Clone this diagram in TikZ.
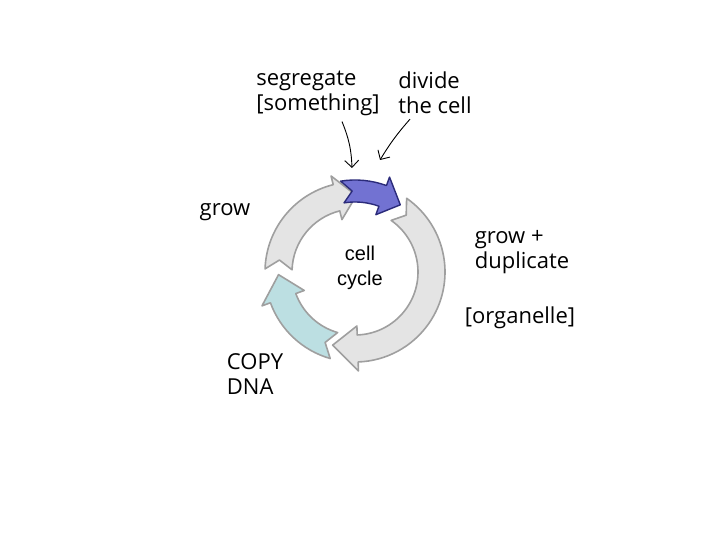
\documentclass[tikz,border=0pt]{standalone}
\usetikzlibrary{arrows.meta}
\usepackage{fontspec}
\setmainfont{Liberation Sans}
\newfontfamily\hand{Open Sans}
\definecolor{lblue}{HTML}{BCDFE2}
\definecolor{purp}{HTML}{7272D2}
\definecolor{dpurp}{HTML}{2B2B7A}
\definecolor{lgray}{HTML}{E4E4E4}
\begin{document}
\begin{tikzpicture}[x=1pt,y=-1pt,
  band/.style={draw=gray!75,line width=1.6pt,line join=round},
  lbl/.style={font=\hand\fontsize{22}{25}\selectfont,align=left,inner sep=0pt},
  hand/.style={line width=0.9pt,-{Straight Barb[length=7pt]}}]
\useasboundingbox (0,0) rectangle (720,540);
\newcommand{\arcarrow}[6]{%
  \fill[#6] (#1:#5) arc[start angle=#1,end angle=#2,radius=#5]
   -- (#2:{#5+9}) -- (#3:{(#4+#5)/2}) -- (#2:{#4-9}) -- (#2:#4)
   arc[start angle=#2,end angle=#1,radius=#4] -- ({#1-7}:{(#4+#5)/2}) -- cycle;}
\begin{scope}[shift={(355,272)},y=1pt]
\arcarrow{55}{-88}{-107}{63}{90}{band,fill=lgray}
\arcarrow{-106}{-160}{-178}{63}{90}{band,fill=lblue}
\arcarrow{-182}{-256}{-271}{63}{90}{band,fill=lgray}
\arcarrow{99}{70}{56}{70}{92}{fill=purp,draw=dpurp,line width=1.4pt,line join=round}
\end{scope}
\node[align=center,font=\fontsize{20}{25}\selectfont] (c) at (360,268) {cell\\cycle};
\node[lbl] (seg) at (318,93) {segregate\\{[something]}};
\node[lbl] (div) at (435,93) {divide\\the cell};
\node[lbl] (grow) at (225,212) {grow};
\node[lbl] (gd) at (522,252) {grow +\\duplicate};
\node[lbl] (org) at (520,318) {[organelle]};
\node[lbl] (copy) at (255,374) {COPY\\DNA};
\coordinate (t1) at (352,168);
\coordinate (t2) at (380,160);
\draw[hand] (seg.south) ++(24,6) coordinate (s1) to[bend left=10] (t1);
\draw[hand] (div.south) ++(-25,5) coordinate (s2) to[bend right=5] (t2);
\end{tikzpicture}
\end{document}
